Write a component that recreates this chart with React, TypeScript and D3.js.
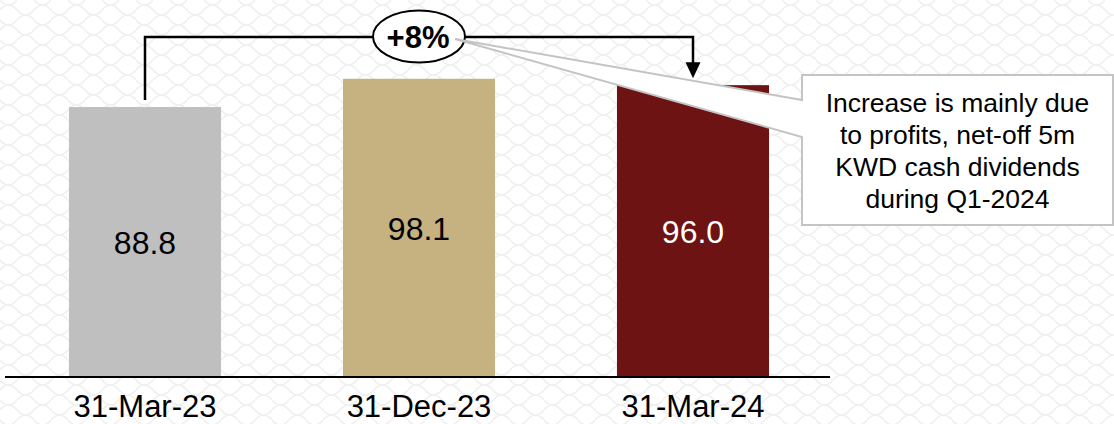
import React from "react";
import * as d3 from "d3";

const categories = ["31-Mar-23", "31-Dec-23", "31-Mar-24"];
const values = [88.8, 98.1, 96.0];
const barColors = ["#bfbfbf", "#c6b180", "#6d1313"];
const labelColors = ["#000000", "#000000", "#ffffff"];
const changeLabel = "+8%";
const noteLines = [
  "Increase is mainly due",
  "to profits, net-off 5m",
  "KWD cash dividends",
  "during Q1-2024",
];

const W = 1114;
const H = 424;
const FONT = "'Liberation Sans', Arial, sans-serif";

export default function App() {
  const x = d3
    .scaleBand<string>()
    .domain(categories)
    .range([8, 830])
    .paddingInner(0.445)
    .paddingOuter(0.2225);
  const y = d3.scaleLinear().domain([0, 100]).range([377, 73]);
  const bw = x.bandwidth();

  const cx0 = (x(categories[0]) as number) + bw / 2;
  const cx2 = (x(categories[2]) as number) + bw / 2;
  const bracketY = 37;
  const startY = y(values[0]) - 7;
  const tipY = y(values[2]) - 7;
  const midX = (cx0 + cx2) / 2;

  const bracketPath = d3.path();
  bracketPath.moveTo(cx0, startY);
  bracketPath.lineTo(cx0, bracketY);
  bracketPath.lineTo(cx2, bracketY);
  bracketPath.lineTo(cx2, tipY - 15);

  const arrowHead = `M${cx2 - 7.5},${tipY - 16} L${cx2 + 7.5},${tipY - 16} L${cx2},${tipY} Z`;

  const boxL = 802, boxR = 1113, boxT = 75, boxB = 225;
  const tipX = midX + 36, tipYc = 39;
  const callout = `M${boxL},${boxT} L${boxR},${boxT} L${boxR},${boxB} L${boxL},${boxB} L${boxL},137 L${tipX},${tipYc} L${boxL},100 Z`;
  const noteCx = (boxL + boxR) / 2;

  return (
    <svg
      width={W}
      height={H}
      style={{ position: "absolute", left: 0, top: 0, display: "block" }}
      fontFamily={FONT}
    >
      <defs>
        <pattern id="bgpat" width="34" height="20" patternUnits="userSpaceOnUse">
          <rect width="34" height="20" fill="#ffffff" />
          <path
            d="M0,10 Q8.5,0 17,10 Q25.5,20 34,10 M0,0 Q8.5,10 17,0 M17,20 Q25.5,10 34,20 M-17,20 Q-8.5,10 0,20"
            fill="none"
            stroke="#efefef"
            strokeWidth="1.5"
          />
        </pattern>
      </defs>
      <rect x={0} y={0} width={W} height={H} fill="url(#bgpat)" />

      {categories.map((c, i) => (
        <rect
          key={c}
          x={x(c)}
          y={y(values[i])}
          width={bw}
          height={y(0) - y(values[i])}
          fill={barColors[i]}
        />
      ))}

      <line x1={5} x2={830} y1={y(0)} y2={y(0)} stroke="#000" strokeWidth={2} />

      {categories.map((c, i) => (
        <text
          key={"v" + c}
          x={(x(c) as number) + bw / 2}
          y={(y(values[i]) + y(0)) / 2 + 12}
          textAnchor="middle"
          fontSize={32}
          fill={labelColors[i]}
        >
          {values[i].toFixed(1)}
        </text>
      ))}

      {categories.map((c) => (
        <text
          key={"l" + c}
          x={(x(c) as number) + bw / 2}
          y={417}
          textAnchor="middle"
          fontSize={31}
          fill="#000"
        >
          {c}
        </text>
      ))}

      <path d={bracketPath.toString()} fill="none" stroke="#000" strokeWidth={2.5} />
      <path d={arrowHead} fill="#000" />

      <ellipse cx={midX} cy={36.5} rx={46} ry={26} fill="#fff" stroke="#000" strokeWidth={2} />
      <text
        x={midX - 1}
        y={48}
        textAnchor="middle"
        fontSize={31}
        fontWeight="bold"
        fill="#000"
      >
        {changeLabel}
      </text>

      <path d={callout} fill="#fff" stroke="#c4c4c4" strokeWidth={2} strokeLinejoin="miter" />
      {noteLines.map((t, i) => (
        <text
          key={t}
          x={noteCx}
          y={112 + i * 32}
          textAnchor="middle"
          fontSize={26.5}
          fill="#000"
        >
          {t}
        </text>
      ))}
    </svg>
  );
}
